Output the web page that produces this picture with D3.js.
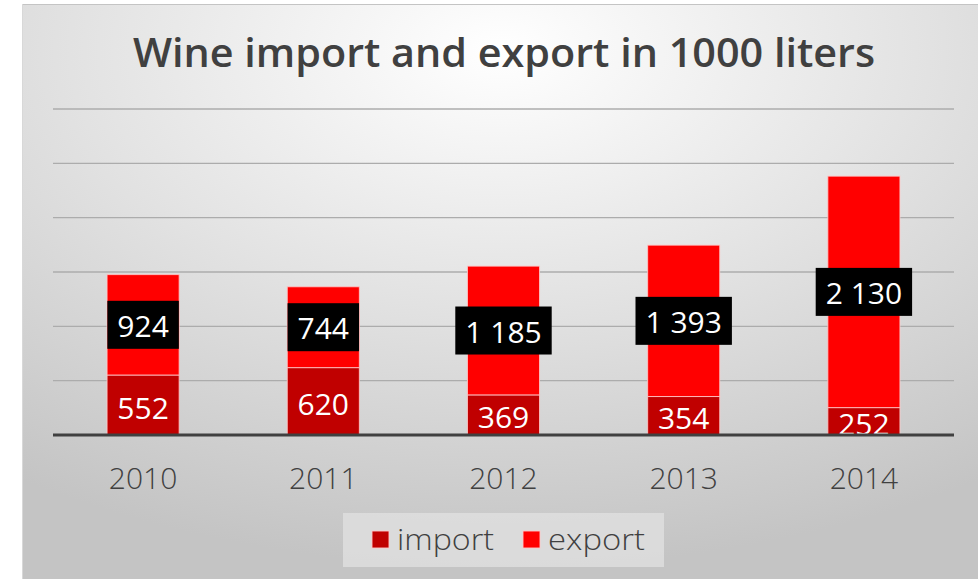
<!DOCTYPE html>
<html>
<head>
<meta charset="utf-8">
<script src="https://cdn.jsdelivr.net/npm/d3@7"></script>
<style>
  html, body { margin: 0; padding: 0; background: #fff; }
  svg { display: block; }
</style>
</head>
<body>
<script>
const years = ["2010", "2011", "2012", "2013", "2014"];
const importValues = [552, 620, 369, 354, 252];
const exportValues = [924, 744, 1185, 1393, 2130];
const seriesNames = ["import", "export"];
const seriesColors = ["#c00000", "#ff0000"];
const yTicks = [0, 500, 1000, 1500, 2000, 2500, 3000];
const titleText = "Wine import and export in 1000 liters";

const W = 978, H = 579;
const svg = d3.select("body").append("svg").attr("width", W).attr("height", H);

const defs = svg.append("defs");
const grad = defs.append("radialGradient").attr("id", "bg")
  .attr("cx", "50%").attr("cy", "8%").attr("r", "90%")
  .attr("fx", "50%").attr("fy", "8%");
grad.append("stop").attr("offset", "0%").attr("stop-color", "#ffffff");
grad.append("stop").attr("offset", "50%").attr("stop-color", "#e2e2e2");
grad.append("stop").attr("offset", "100%").attr("stop-color", "#c4c4c4");

// chart area background
svg.append("rect").attr("x", 22).attr("y", 4).attr("width", W - 22).attr("height", H - 4)
  .attr("fill", "url(#bg)");
svg.append("line").attr("x1", 22).attr("x2", W).attr("y1", 4.5).attr("y2", 4.5)
  .attr("stroke", "#c4c4c4").attr("stroke-width", 1);
svg.append("line").attr("x1", 22.5).attr("x2", 22.5).attr("y1", 4).attr("y2", H)
  .attr("stroke", "#d8d8d8").attr("stroke-width", 1);

const x = d3.scaleBand().domain(years).range([53, 954]).paddingInner(0.6).paddingOuter(0.3);
const y = d3.scaleLinear().domain([0, 3000]).range([435, 109]);

// gridlines
svg.append("g").selectAll("line").data(yTicks.filter(d => d > 0)).join("line")
  .attr("x1", 53).attr("x2", 954)
  .attr("y1", d => y(d)).attr("y2", d => y(d))
  .attr("stroke", "#acacac").attr("stroke-width", 1.3);

// stacked data
const data = years.map((yr, i) => ({ year: yr, import: importValues[i], export: exportValues[i] }));
const stack = d3.stack().keys(seriesNames)(data);

const bw = x.bandwidth();
svg.append("g").selectAll("g").data(stack).join("g")
  .attr("fill", (d, i) => seriesColors[i])
  .selectAll("rect").data(d => d).join("rect")
  .attr("x", d => x(d.data.year))
  .attr("y", d => y(d[1]))
  .attr("width", bw)
  .attr("height", d => y(d[0]) - y(d[1]))
  .attr("stroke", "rgba(255,200,200,0.85)")
  .attr("stroke-width", 1);

const labelFont = "'Open Sans', 'Noto Sans', sans-serif";
const fmt = v => d3.format(",")(v).replace(/,/g, " ");

// import labels
svg.append("g").selectAll("text").data(stack[0]).join("text")
  .attr("x", d => x(d.data.year) + bw / 2)
  .attr("y", d => (y(d[0]) + y(d[1])) / 2 + 13.5)
  .attr("text-anchor", "middle")
  .attr("font-family", labelFont)
  .attr("font-size", 30)
  .attr("font-weight", 500)
  .attr("fill", "#ffffff")
  .text(d => fmt(d[1] - d[0]));

// baseline
svg.append("line").attr("x1", 53).attr("x2", 954).attr("y1", y(0)).attr("y2", y(0))
  .attr("stroke", "#404040").attr("stroke-width", 3);

// export labels with black boxes
const exG = svg.append("g").selectAll("g").data(stack[1]).join("g")
  .attr("transform", d => `translate(${x(d.data.year) + bw / 2},${(y(d[0]) + y(d[1])) / 2})`);
exG.each(function(d) {
  const g = d3.select(this);
  const t = g.append("text")
    .attr("text-anchor", "middle")
    .attr("y", 12)
    .attr("font-family", labelFont)
    .attr("font-size", 30)
    .attr("font-weight", 500)
    .attr("fill", "#ffffff")
    .text(fmt(d[1] - d[0]));
  const w = t.node().getComputedTextLength();
  g.insert("rect", "text")
    .attr("x", -w / 2 - 10).attr("y", -24)
    .attr("width", w + 20).attr("height", 48)
    .attr("fill", "#000000");
});

// x axis labels
svg.append("g").selectAll("text").data(years).join("text")
  .attr("x", d => x(d) + bw / 2)
  .attr("y", 489)
  .attr("text-anchor", "middle")
  .attr("font-family", "'Open Sans', sans-serif")
  .attr("font-size", 30)
  .attr("font-weight", 300)
  .attr("fill", "#404040")
  .text(d => d);

// title
svg.append("text")
  .attr("x", 504).attr("y", 67)
  .attr("text-anchor", "middle")
  .attr("font-family", "'Open Sans', sans-serif")
  .attr("font-size", 40)
  .attr("font-weight", 600)
  .attr("fill", "#404040")
  .attr("textLength", 742)
  .attr("lengthAdjust", "spacingAndGlyphs")
  .text(titleText);

// legend
const lg = svg.append("g");
lg.append("rect").attr("x", 343).attr("y", 513).attr("width", 321).attr("height", 54)
  .attr("fill", "#e0e0e0").attr("fill-opacity", 0.8);
const legendItems = [
  { name: seriesNames[0], color: seriesColors[0], sx: 372, tx: 397 },
  { name: seriesNames[1], color: seriesColors[1], sx: 523, tx: 548 }
];
legendItems.forEach(it => {
  lg.append("rect").attr("x", it.sx).attr("y", 531).attr("width", 17).attr("height", 17)
    .attr("fill", it.color).attr("stroke", "rgba(255,200,200,0.9)").attr("stroke-width", 1);
  lg.append("text").attr("x", it.tx).attr("y", 550)
    .attr("font-family", "'Open Sans', sans-serif")
    .attr("font-size", 30)
    .attr("font-weight", 300)
    .attr("fill", "#404040")
    .attr("textLength", 97)
    .attr("lengthAdjust", "spacingAndGlyphs")
    .text(it.name);
});
</script>
</body>
</html>
